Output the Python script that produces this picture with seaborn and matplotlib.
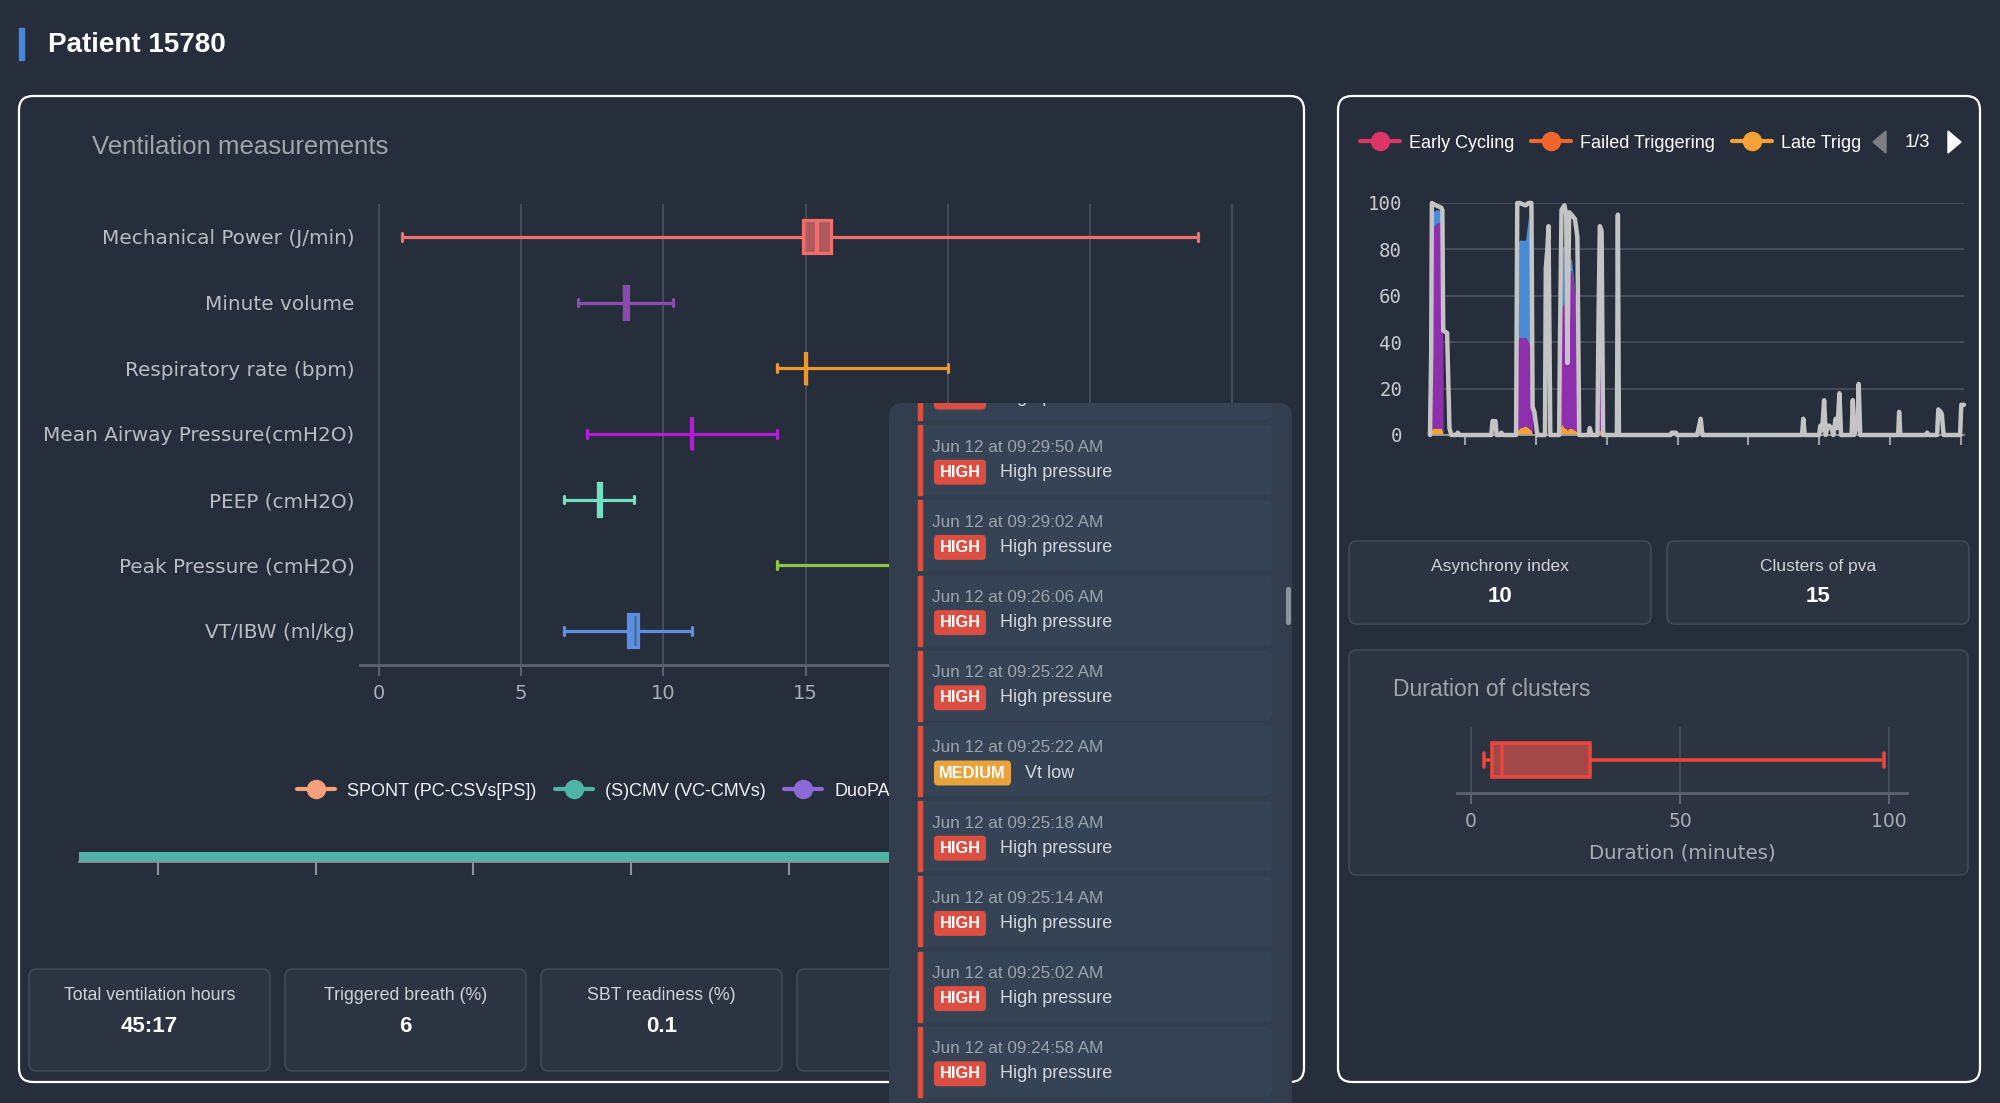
import numpy as np
import pandas as pd
import matplotlib.pyplot as plt
import seaborn as sns
from matplotlib.patches import FancyBboxPatch, Rectangle, Polygon
from matplotlib.lines import Line2D

# ---------------- data ----------------
patient = 'Patient 15780'

metrics = ['Mechanical Power (J/min)', 'Minute volume', 'Respiratory rate (bpm)',
           'Mean Airway Pressure(cmH2O)', 'PEEP (cmH2O)', 'Peak Pressure (cmH2O)',
           'VT/IBW (ml/kg)']
metric_min = [0.8, 7.0, 14.0, 7.3, 6.5, 14.0, 6.5]
metric_q1 = [14.9, 8.6, 15.0, 11.0, 7.7, 19.0, 8.75]
metric_med = [15.4, 8.65, 15.0, 11.0, 7.75, 20.0, 8.9]
metric_q3 = [15.9, 8.75, 15.0, 11.0, 7.8, 21.0, 9.1]
metric_max = [28.8, 10.33, 20.0, 14.0, 8.95, 25.0, 11.0]
metric_colors = ['#ef6f6c', '#8a4ab0', '#f0962e', '#b11ed6', '#70e0c0', '#8dc641', '#5b8fe4']
x_ticks = [0, 5, 10, 15, 20, 25, 30]
x_ticklabels = ['0', '5', '10', '15', '', '', '']  # 20-30 sit under the alert list

modes = ['SPONT (PC-CSVs[PS])', '(S)CMV (VC-CMVs)', 'DuoPAP']
mode_colors = ['#f5a07a', '#4fb3a6', '#8b6ad8']
seg_mode = ['(S)CMV (VC-CMVs)']
seg_start = [0.0]
seg_end = [45.28]
total_hours = 45.28  # 45:17

stats_left = ['Total ventilation hours', 'Triggered breath (%)', 'SBT readiness (%)', '']
stats_left_val = ['45:17', '6', '0.1', '']
stats_right = ['Asynchrony index', 'Clusters of pva']
stats_right_val = ['10', '15']

async_types = ['Early Cycling', 'Failed Triggering', 'Late Triggering']
async_colors = ['#dc3566', '#f0652f', '#f4a236']

# total asynchrony (grey line), hours since start
ts_hours = [0.00, 0.10, 0.16, 0.50, 0.95, 1.05, 1.12, 1.45, 1.65, 1.80, 2.25, 2.35, 2.50,
            5.20, 5.30, 5.55, 5.65, 5.95, 6.05, 6.20,
            7.30, 7.40, 7.60, 8.10, 8.35, 8.60, 8.70, 8.85, 9.10,
            9.75, 9.82, 9.95, 10.05, 10.20,
            10.95, 11.02, 11.15, 11.40, 11.55, 11.65, 11.80, 12.00, 12.30, 12.50, 12.65,
            13.45, 13.55, 13.70,
            14.20, 14.28, 14.40, 14.55, 14.68,
            15.85, 15.93, 16.02,
            20.40, 20.50, 20.85, 20.95,
            22.65, 22.78, 22.95, 23.10,
            31.55, 31.65, 31.78,
            33.00, 33.10, 33.25, 33.42, 33.55, 33.75, 33.85, 34.05, 34.20, 34.40, 34.55, 34.72, 34.85,
            35.75, 35.85, 35.95, 36.25, 36.35, 36.48,
            39.70, 39.78, 39.88,
            42.05, 42.15, 42.30, 43.00, 43.10, 43.30, 43.40, 43.55,
            44.95, 45.05, 45.28]
ts_total = [0, 35, 100, 99, 98, 97, 45, 44, 3, 0, 0, 1, 0,
            0, 6, 6, 0, 0, 1, 0,
            0, 100, 100, 99, 100, 100, 12, 10, 0,
            0, 72, 80, 90, 0,
            0, 40, 97, 99, 95, 31, 96, 95, 93, 85, 0,
            0, 3, 0,
            0, 45, 90, 88, 0,
            0, 95, 0,
            0, 1, 1, 0,
            0, 3, 7, 0,
            0, 7, 0,
            0, 4, 2, 15, 0, 4, 4, 3, 0, 7, 3, 18, 0,
            0, 15, 0, 4, 22, 0,
            0, 10, 0,
            0, 1, 0, 0, 11, 10, 9, 0,
            0, 13, 13]

# stacked components inside the big clusters
area_hours = [0.00, 0.10, 0.16, 0.50, 0.95, 1.05, 1.12,
              7.30, 7.40, 7.60, 8.10, 8.35, 8.60, 8.70,
              10.95, 11.02, 11.15, 11.40, 11.55, 11.65, 11.80, 12.00, 12.30, 12.50, 12.65,
              14.20, 14.28, 14.40, 14.55, 14.68]
late_trig = [0, 1, 3, 3, 3, 2, 0,
             0, 2, 3, 4, 3, 2, 0,
             0, 2, 5, 3, 3, 2, 3, 3, 2, 1, 0,
             0, 2, 2, 1, 0]
ineffective = [0, 10, 86, 88, 89, 86, 0,
               0, 38, 39, 38, 37, 30, 0,
               0, 23, 50, 54, 47, 26, 67, 68, 58, 39, 0,
               0, 0, 40, 39, 0]
double_trig = [0, 0, 7, 6, 5, 6, 0,
               0, 42, 42, 42, 54, 40, 0,
               0, 5, 25, 25, 20, 0, 5, 5, 0, 0, 0,
               0, 0, 13, 12, 0]

duration_summary = [3.1, 5.0, 7.5, 28.4, 98.8]  # min, q1, median, q3, max (minutes)

alert_times = ['Jun 12 at 09:30:14 AM', 'Jun 12 at 09:29:50 AM', 'Jun 12 at 09:29:02 AM',
               'Jun 12 at 09:26:06 AM', 'Jun 12 at 09:25:22 AM', 'Jun 12 at 09:25:22 AM',
               'Jun 12 at 09:25:18 AM', 'Jun 12 at 09:25:14 AM', 'Jun 12 at 09:25:02 AM',
               'Jun 12 at 09:24:58 AM']
alert_levels = ['HIGH', 'HIGH', 'HIGH', 'HIGH', 'HIGH', 'MEDIUM', 'HIGH', 'HIGH', 'HIGH', 'HIGH']
alert_msgs = ['High pressure', 'High pressure', 'High pressure', 'High pressure', 'High pressure',
              'Vt low', 'High pressure', 'High pressure', 'High pressure', 'High pressure']

# ---------------- style ----------------
W, H = 2000, 1103
BG = '#272e3b'
CARD = '#2d3441'
CARD_EDGE = '#424956'
GRID = '#4b525e'
AXIS = '#5d636e'
TICK = '#a9adb3'

sns.set_theme(style='ticks')
plt.rcParams['font.family'] = ['Liberation Sans', 'DejaVu Sans']
plt.rcParams['axes.facecolor'] = 'none'

fig = plt.figure(figsize=(W / 100, H / 100), dpi=100, facecolor=BG)


def px_axes(x0, y0, x1, y1, z=2):
    a = fig.add_axes([x0 / W, 1 - y1 / H, (x1 - x0) / W, (y1 - y0) / H], zorder=z)
    a.set_facecolor('none')
    return a


def box(ax, x0, y0, x1, y1, fc, ec='none', lw=1.2, r=8, z=1, **kw):
    p = FancyBboxPatch((x0, y0), x1 - x0, y1 - y0, boxstyle=f'round,pad=0,rounding_size={r}',
                       fc=fc, ec=ec, lw=lw, zorder=z, **kw)
    ax.add_patch(p)
    return p


def strip(ax, keep=()):
    for s in ['top', 'right', 'left', 'bottom']:
        ax.spines[s].set_visible(s in keep)


bg = fig.add_axes([0, 0, 1, 1], zorder=0)
bg.set_xlim(0, W)
bg.set_ylim(H, 0)
bg.axis('off')

# header
bg.add_patch(Rectangle((19, 28), 5, 32, color='#4a86d8'))
bg.text(48, 45, patient, color='white', fontsize=20, fontweight='bold', va='center')

# panels
box(bg, 19, 96, 1304, 1082, 'none', 'white', lw=1.6, r=14)
box(bg, 1338, 96, 1980, 1082, 'none', 'white', lw=1.6, r=14)
bg.text(92, 147, 'Ventilation measurements', color='#a0a3a8', fontsize=18.5, va='center')

# ---------------- ventilation measurements ----------------
rows = []
for name, a, b, c, d, e in zip(metrics, metric_min, metric_q1, metric_med, metric_q3, metric_max):
    for v in (a, b, c, d, e):
        rows.append({'metric': name, 'value': v})
box_df = pd.DataFrame(rows)

ax1 = px_axes(360, 204, 1250, 665)
for name, color in zip(metrics, metric_colors):
    sns.boxplot(data=box_df[box_df.metric == name], x='value', y='metric', order=metrics,
                orient='h', color=color, linecolor=color, saturation=1, fill=True,
                whis=(0, 100), width=0.5, linewidth=2.3, capwidths=0.12,
                medianprops=dict(linewidth=3), ax=ax1)
for p in ax1.patches:
    r, g, b_, _ = p.get_edgecolor()
    p.set_facecolor((r, g, b_, 0.68))
ax1.set_xlim(-0.668, 30.63)
ax1.set_ylim(6.52, -0.5)
ax1.set_xticks(x_ticks)
ax1.set_xticklabels(x_ticklabels)
ax1.grid(axis='x', color=GRID, lw=1.2)
ax1.grid(axis='y', visible=False)
ax1.set_axisbelow(True)
ax1.set_xlabel('')
ax1.set_ylabel('')
strip(ax1, keep=('bottom',))
ax1.spines['bottom'].set_color(AXIS)
ax1.spines['bottom'].set_linewidth(2)
ax1.tick_params(axis='x', bottom=True, length=8, width=1.5, color=AXIS, labelsize=14,
                labelcolor=TICK, pad=6)
ax1.tick_params(axis='y', left=False, length=0, labelsize=14.4, labelcolor='#b9bcc1', pad=4)
for lab in ax1.get_xticklabels() + ax1.get_yticklabels():
    lab.set_family('DejaVu Sans')

# ---------------- mode timeline ----------------
ax2 = px_axes(79, 852, 1269, 862)
for m, s, e in zip(seg_mode, seg_start, seg_end):
    ax2.barh(0, e - s, left=s, height=1, color=mode_colors[modes.index(m)], lw=0)
ax2.set_xlim(0, total_hours)
ax2.set_ylim(-0.5, 0.5)
ax2.set_xticks(np.arange(3, total_hours, 6))
ax2.set_yticks([])
strip(ax2, keep=('bottom',))
ax2.spines['bottom'].set_color('#8c9099')
ax2.tick_params(axis='x', bottom=True, length=9, width=1.5, color='#8c9099', labelbottom=False)
mode_handles = [Line2D([], [], color=c, lw=3, marker='o', ms=13) for c in mode_colors]
ax2.legend(mode_handles, modes, loc='center left', bbox_to_anchor=(297 / W, 1 - 791 / H),
           bbox_transform=fig.transFigure, ncol=3, frameon=False, fontsize=13,
           labelcolor='#eef0f3', handlelength=2.1, handletextpad=0.65, columnspacing=1.05,
           borderpad=0, borderaxespad=0)

# stat cards (left)
for i, (t, v) in enumerate(zip(stats_left, stats_left_val)):
    x0 = 29 + i * 256
    box(bg, x0, 969, x0 + 241, 1071, CARD, CARD_EDGE, lw=1.2, r=8)
    bg.text(x0 + 120.5, 995, t, color='#cfd2d7', fontsize=12.8, ha='center', va='center')
    bg.text(x0 + 120.5, 1027, v, color='white', fontsize=16, fontweight='bold',
            ha='center', va='center')

# ---------------- asynchrony time series ----------------
ax3 = px_axes(1430, 203, 1964, 435)
late = np.array(late_trig, float)
ineff = np.array(ineffective, float)
dbl = np.array(double_trig, float)
ax3.fill_between(area_hours, 0, late, color='#f4a236', lw=0, zorder=2)
ax3.fill_between(area_hours, late, late + ineff, color='#8e2fae', lw=0, zorder=2)
ax3.fill_between(area_hours, late + ineff, late + ineff + dbl, color='#4a8bd6', lw=0, zorder=2)
sns.lineplot(x=ts_hours, y=ts_total, ax=ax3, color='#c4c4c4', linewidth=3.2, clip_on=False,
             zorder=3)
ax3.set_xlim(0, total_hours)
ax3.set_ylim(0, 100)
ax3.set_yticks(range(0, 101, 20))
ax3.set_xticks(np.arange(3, total_hours, 6))
ax3.grid(axis='y', color=GRID, lw=1.2)
ax3.set_axisbelow(True)
strip(ax3, keep=('bottom',))
ax3.spines['bottom'].set_color('#9a9ea6')
ax3.tick_params(axis='x', bottom=True, length=7, width=1.5, color='#9a9ea6', labelbottom=False)
ax3.tick_params(axis='y', left=False, length=0, labelsize=13.7, labelcolor='#c8cacd', pad=20)
for lab in ax3.get_yticklabels():
    lab.set_family('DejaVu Sans Mono')
async_handles = [Line2D([], [], color=c, lw=3, marker='o', ms=13) for c in async_colors]
ax3.legend(async_handles, async_types, loc='center left', bbox_to_anchor=(1360 / W, 1 - 143 / H),
           bbox_transform=fig.transFigure, ncol=3, frameon=False, fontsize=13,
           labelcolor='white', handlelength=2.2, handletextpad=0.5, columnspacing=0.95,
           borderpad=0, borderaxespad=0)

# legend pager
axp = px_axes(1862, 118, 1976, 166, z=6)
axp.set_facecolor(BG)
axp.set_xlim(1862, 1976)
axp.set_ylim(166, 118)
axp.set_xticks([])
axp.set_yticks([])
strip(axp)
axp.add_patch(Polygon([(1886, 131), (1886, 153), (1873, 142)], color='#7d7f83'))
axp.add_patch(Polygon([(1948, 131), (1948, 153), (1961, 142)], color='white'))
axp.text(1917, 143, '1/3', color='white', fontsize=13.2, ha='center', va='center')

# stat cards (right)
for i, (t, v) in enumerate(zip(stats_right, stats_right_val)):
    x0 = 1349 + i * 318
    box(bg, x0, 541, x0 + 302, 624, CARD, CARD_EDGE, lw=1.2, r=8)
    bg.text(x0 + 151, 566, t, color='#cfd2d7', fontsize=12.5, ha='center', va='center')
    bg.text(x0 + 151, 597, v, color='white', fontsize=16, fontweight='bold',
            ha='center', va='center')

# duration of clusters
box(bg, 1349, 650, 1968, 875, CARD, CARD_EDGE, lw=1.2, r=8)
bg.text(1393, 690, 'Duration of clusters', color='#a0a3a8', fontsize=16.5, va='center')
ax4 = px_axes(1457, 727, 1907, 793)
sns.boxplot(x=duration_summary, orient='h', color='#e8453c', linecolor='#e8453c', saturation=1,
            whis=(0, 100), width=0.53, linewidth=2.6, capwidths=0.2, ax=ax4)
for p in ax4.patches:
    p.set_facecolor('#a34848')
ax4.set_xlim(-3.35, 104.3)
ax4.set_ylim(0.5, -0.5)
ax4.set_xticks([0, 50, 100])
ax4.set_yticks([])
ax4.grid(axis='x', color=GRID, lw=1.2)
ax4.set_axisbelow(True)
strip(ax4, keep=('bottom',))
ax4.spines['bottom'].set_color(AXIS)
ax4.spines['bottom'].set_linewidth(2)
ax4.tick_params(axis='x', bottom=True, length=8, width=1.5, color=AXIS, labelsize=13.5,
                labelcolor=TICK, pad=6)
ax4.set_xlabel('Duration (minutes)', color=TICK, fontsize=14.2, family='DejaVu Sans', labelpad=9)
for lab in ax4.get_xticklabels():
    lab.set_family('DejaVu Sans')

# ---------------- alerts popup ----------------
ax5 = px_axes(889, 403, 1292, 1103, z=10)
ax5.set_xlim(889, 1292)
ax5.set_ylim(1103, 403)
ax5.set_xticks([])
ax5.set_yticks([])
strip(ax5)
box(ax5, 889, 403, 1292, 1180, '#323e4e', r=14, z=0, clip_on=False)
level_color = {'HIGH': '#dc4e41', 'MEDIUM': '#e8a33d'}
badge_w = {'HIGH': 52, 'MEDIUM': 77}
for i, (t, lvl, msg) in enumerate(zip(alert_times, alert_levels, alert_msgs)):
    top = 350 + i * 75.2
    box(ax5, 918, top, 1272, top + 70, '#364354', r=6, z=1)
    ax5.add_patch(Rectangle((918, top), 3.5, 70, color='#d9503f', zorder=2))
    ax5.text(932, top + 22, t, color='#9ba3ae', fontsize=12.3, va='center', clip_on=True)
    bw = badge_w[lvl]
    box(ax5, 934, top + 34.5, 934 + bw, top + 59.5, level_color[lvl], r=4, z=2)
    ax5.text(934 + bw / 2, top + 47, lvl, color='white', fontsize=11.8, fontweight='bold',
             ha='center', va='center', clip_on=True)
    ax5.text(934 + bw + 14, top + 47, msg, color='#d3d7dd', fontsize=13, va='center',
             clip_on=True)
box(ax5, 1286, 587, 1291, 625, '#8b939f', r=2.5, z=3)

fig.savefig('out.png', dpi=100, facecolor=BG)
